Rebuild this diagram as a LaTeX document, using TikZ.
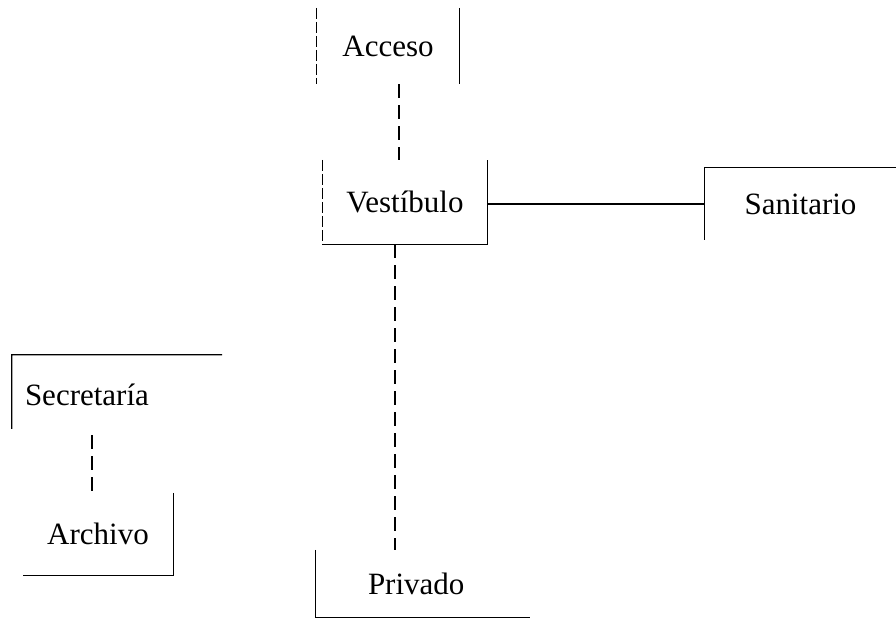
\documentclass[tikz,border=0pt]{standalone}
\usepackage{fontspec}
\setmainfont{Liberation Serif}
\usetikzlibrary{calc}

\begin{document}
\begin{tikzpicture}[
  x=1pt, y=-1pt,
  font=\fontsize{31}{37}\selectfont,
  room/.style={inner sep=0pt, align=center},
  wall/.style={line width=1.3pt},
  scan/.style={line width=1.1pt, dash pattern=on 11pt off 3pt},
  link/.style={line width=1.3pt, dash pattern=on 14pt off 7pt}
]
\useasboundingbox (0,0) rectangle (896,628);
\node[room, minimum width=143, minimum height=76] (acceso) at (388,46) {Acceso};
\node[room, minimum width=164, minimum height=84] (vest) at (405,202) {Vestíbulo};
\node[room, minimum width=191, minimum height=72] (sanit) at (800.5,204) {Sanitario};
\node[room, minimum width=210, minimum height=80, text width=184, align=left, inner xsep=13] (secr) at (117,395) {Secretaría};
\node[room, minimum width=150, minimum height=82] (arch) at (98,534) {Archivo};
\node[room, minimum width=214, minimum height=67, text width=110, align=left, inner xsep=52] (priv) at (423,583.5) {Privado};
% partial walls of each room
\draw[scan] (acceso.north west) -- (acceso.south west);
\draw[wall] (acceso.north east) -- (acceso.south east);
\draw[scan] (vest.north west) -- (vest.south west);
\draw[wall] (vest.south west) -- (vest.south east) -- (vest.north east);
\draw[wall] (sanit.north east) -- (sanit.north west) -- (sanit.south west);
\draw[wall] (secr.north east) -- (secr.north west) -- ($(secr.north west)!0.92!(secr.south west)$);
\draw[wall] (arch.north east) -- (arch.south east) -- (arch.south west);
\draw[wall] (priv.north west) -- (priv.south west) -- (priv.south east);
% links
\coordinate (accfoot) at ($(acceso.south)+(11,0)$);
\coordinate (vestfoot) at ($(vest.south)+(-10,0)$);
\coordinate (secrfoot) at ($(secr.south)+(-25,0)$);
\draw[link] (accfoot) -- (accfoot |- vest.north);
\draw[wall] (vest.east |- sanit.west) -- (sanit.west);
\draw[link] (vestfoot) -- (vestfoot |- priv.north);
\draw[link] (secrfoot) -- (secrfoot |- arch.north);
\end{tikzpicture}
\end{document}
